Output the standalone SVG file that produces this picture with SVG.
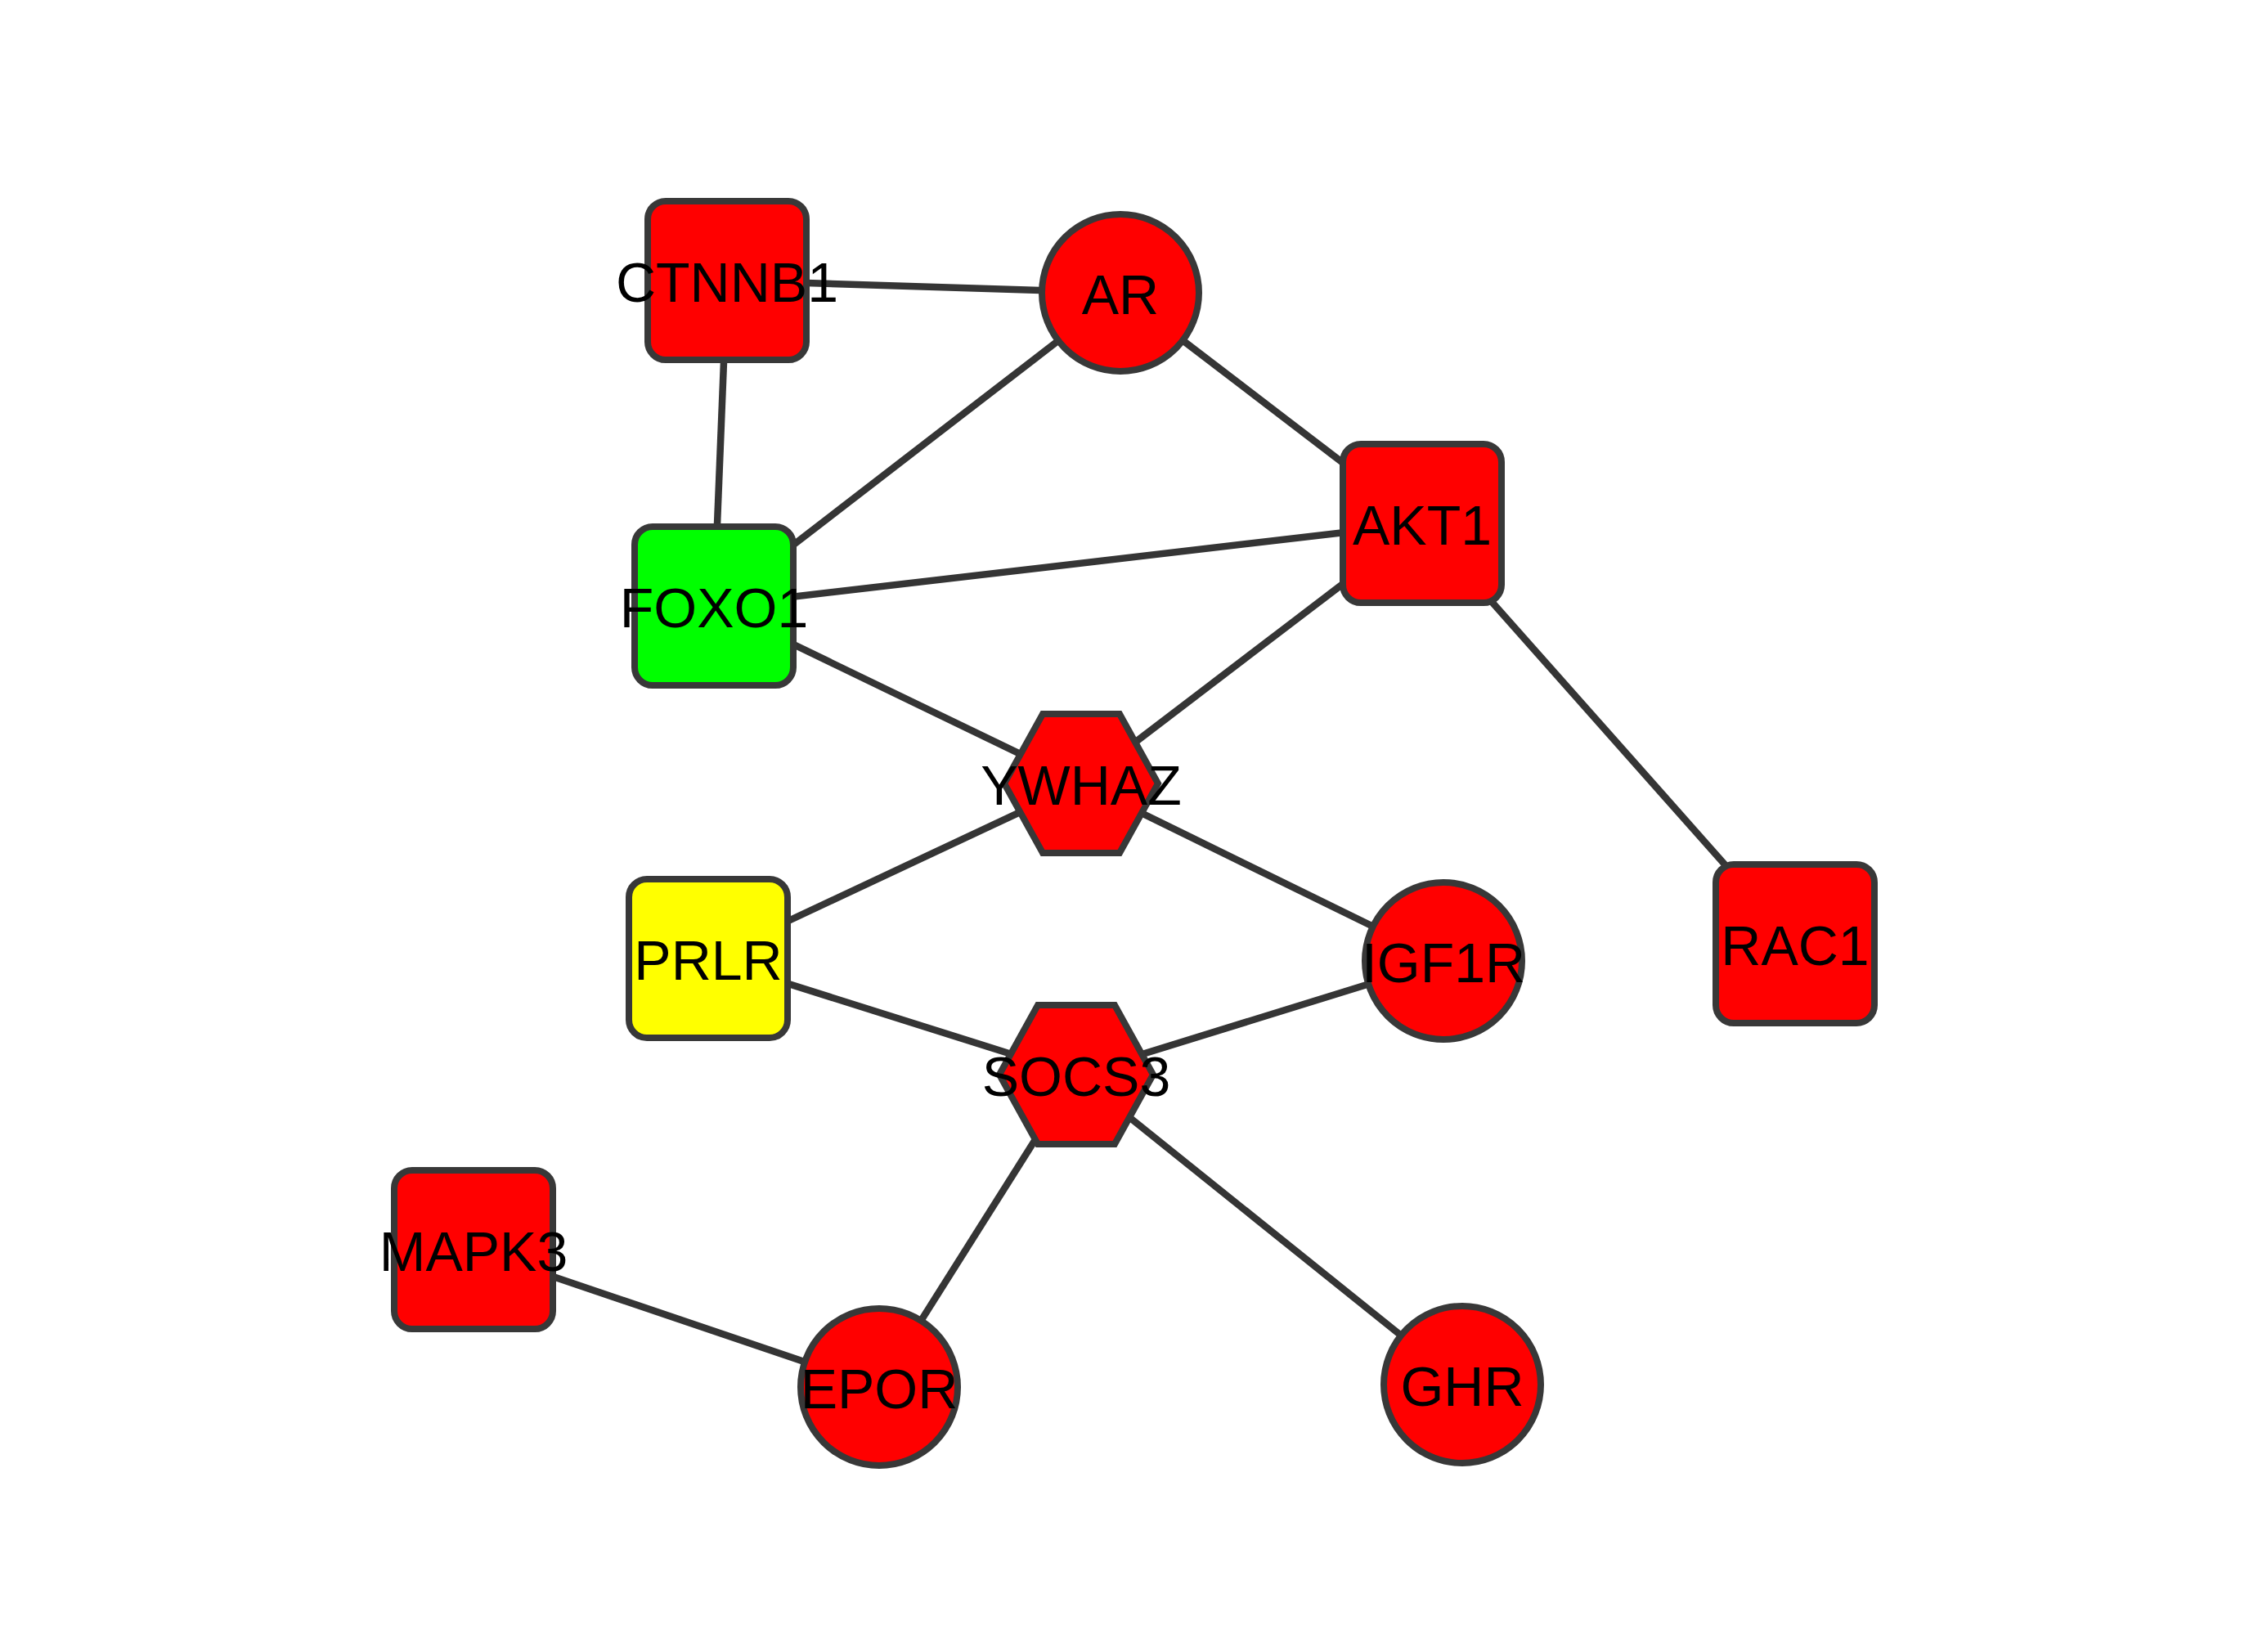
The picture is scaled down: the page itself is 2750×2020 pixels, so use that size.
<svg xmlns="http://www.w3.org/2000/svg" width="2750" height="2020" viewBox="0 0 2750 2020">
<style>
.e{stroke:#353535;stroke-width:8.5;fill:none}
.n{stroke:#383838;stroke-width:8}
.r{fill:#ff0000}
.g{fill:#00ff00}
.y{fill:#ffff00}
.t{font-family:"Liberation Sans",Arial,sans-serif;font-size:68px;fill:#000;text-anchor:middle}
</style>
<defs>
<path id="hex" d="M-94,0 L-47,-85 L47,-85 L94,0 L47,85 L-47,85 Z"/>
</defs>
<rect width="2750" height="2020" fill="#fff"/>
<g id="connectors">
<line class="e" x1="889" y1="343" x2="1370" y2="358"/>
<line class="e" x1="889" y1="343" x2="873" y2="741"/>
<line class="e" x1="1370" y1="358" x2="873" y2="741"/>
<line class="e" x1="1370" y1="358" x2="1739" y2="640"/>
<line class="e" x1="873" y1="741" x2="1739" y2="640"/>
<line class="e" x1="873" y1="741" x2="1322" y2="958"/>
<line class="e" x1="1739" y1="640" x2="1322" y2="958"/>
<line class="e" x1="1739" y1="640" x2="2195" y2="1154"/>
<line class="e" x1="1322" y1="958" x2="866" y2="1172"/>
<line class="e" x1="1322" y1="958" x2="1765" y2="1175"/>
<line class="e" x1="866" y1="1172" x2="1316" y2="1314"/>
<line class="e" x1="1316" y1="1314" x2="1765" y2="1175"/>
<line class="e" x1="1316" y1="1314" x2="1075" y2="1696"/>
<line class="e" x1="1316" y1="1314" x2="1788" y2="1693"/>
<line class="e" x1="579" y1="1528" x2="1075" y2="1696"/>
</g>
<g id="CTNNB1"><rect class="n r" x="792" y="246" width="194" height="194" rx="22"/><text class="t" x="889" y="369">CTNNB1</text></g>
<g id="AR"><circle class="n r" cx="1370" cy="358" r="96"/><text class="t" x="1370" y="384">AR</text></g>
<g id="FOXO1"><rect class="n g" x="776" y="644" width="194" height="194" rx="22"/><text class="t" x="873" y="767">FOXO1</text></g>
<g id="AKT1"><rect class="n r" x="1642" y="543" width="194" height="194" rx="22"/><text class="t" x="1739" y="666">AKT1</text></g>
<g id="YWHAZ"><use href="#hex" class="n r" x="1322" y="958"/><text class="t" x="1322" y="984">YWHAZ</text></g>
<g id="PRLR"><rect class="n y" x="769" y="1075" width="194" height="194" rx="22"/><text class="t" x="866" y="1198">PRLR</text></g>
<g id="IGF1R"><circle class="n r" cx="1765" cy="1175" r="96"/><text class="t" x="1765" y="1201">IGF1R</text></g>
<g id="RAC1"><rect class="n r" x="2098" y="1057" width="194" height="194" rx="22"/><text class="t" x="2195" y="1180">RAC1</text></g>
<g id="SOCS3"><use href="#hex" class="n r" x="1316" y="1314"/><text class="t" x="1316" y="1340">SOCS3</text></g>
<g id="MAPK3"><rect class="n r" x="482" y="1431" width="194" height="194" rx="22"/><text class="t" x="579" y="1554">MAPK3</text></g>
<g id="EPOR"><circle class="n r" cx="1075" cy="1696" r="96"/><text class="t" x="1075" y="1722">EPOR</text></g>
<g id="GHR"><circle class="n r" cx="1788" cy="1693" r="96"/><text class="t" x="1788" y="1719">GHR</text></g>
</svg>
